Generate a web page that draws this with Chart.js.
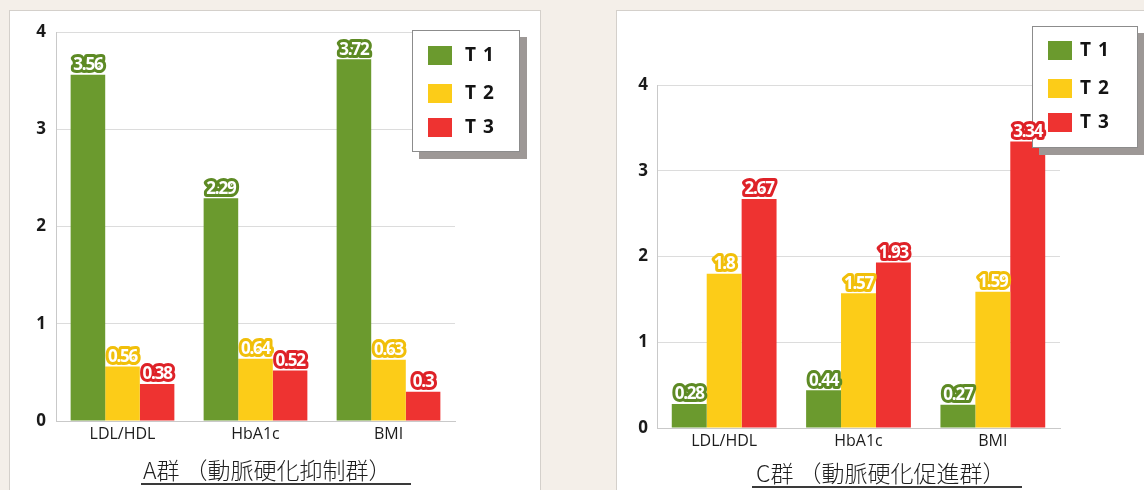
<!DOCTYPE html>
<html>
<head>
<meta charset="utf-8">
<script src="https://cdn.jsdelivr.net/npm/chart.js@4/dist/chart.umd.min.js"></script>
<style>
  html, body { margin: 0; padding: 0; }
  body { width: 1144px; height: 490px; background: #f4efe9; position: relative; overflow: hidden; font-family: "Open Sans", sans-serif; }
  .panel { position: absolute; background: #ffffff; border: 1px solid #d4d0cb; box-sizing: border-box; }
  #panelA { left: 9px; top: 10px; width: 532px; height: 492px; }
  #panelC { left: 616px; top: 10px; width: 540px; height: 492px; }
  .cv { position: absolute; }
  #chartA { left: 10px; top: 10px; }
  #chartC { left: 617px; top: 10px; }
  .caption { position: absolute; font-family: "Noto Sans CJK JP", sans-serif; font-weight: 300; font-size: 23px; line-height: 28px; color: #1e1e1e; border-bottom: 2px solid #3a3a3a; white-space: nowrap; box-sizing: border-box; }
  #capA { left: 141px; top: 455px; width: 270px; padding-left: 2px; }
  #capC { left: 752px; top: 458px; width: 270px; padding-left: 4px; }
</style>
</head>
<body>
<div class="panel" id="panelA"></div>
<div class="panel" id="panelC"></div>
<canvas class="cv" id="chartA" width="530" height="450"></canvas>
<canvas class="cv" id="chartC" width="527" height="450"></canvas>
<div class="caption" id="capA"></div>
<div class="caption" id="capC"></div>
<script>
// Categories and series names shared by both panels
const categories = ['LDL/HDL', 'HbA1c', 'BMI'];
const seriesNames = ['T 1', 'T 2', 'T 3'];
const yTickValues = [0, 1, 2, 3, 4];

// Group A (動脈硬化抑制群)
const groupA_T1 = [3.56, 2.29, 3.72];
const groupA_T2 = [0.56, 0.64, 0.63];
const groupA_T3 = [0.38, 0.52, 0.3];

// Group C (動脈硬化促進群)
const groupC_T1 = [0.28, 0.44, 0.27];
const groupC_T2 = [1.8, 1.57, 1.59];
const groupC_T3 = [2.67, 1.93, 3.34];

const captionA = 'A群 （動脈硬化抑制群）';
const captionC = 'C群 （動脈硬化促進群）';

document.getElementById('capA').textContent = captionA;
document.getElementById('capC').textContent = captionC;

const barColors = ['#6b9a2e', '#fccc18', '#ee3331'];
const labelStrokes = ['#5d8a24', '#f1bf0a', '#de2228'];

// Boxed legend with a drop shadow
const boxLegend = {
  id: 'boxLegend',
  afterDraw(chart, args, opts) {
    const ctx = chart.ctx;
    ctx.save();
    ctx.fillStyle = '#9d9896';
    ctx.fillRect(opts.x + 7, opts.y + 7, opts.w, opts.h);
    ctx.fillStyle = '#ffffff';
    ctx.fillRect(opts.x, opts.y, opts.w, opts.h);
    ctx.strokeStyle = '#8c8c8c';
    ctx.lineWidth = 1;
    ctx.strokeRect(opts.x + 0.5, opts.y + 0.5, opts.w - 1, opts.h - 1);
    ctx.font = 'bold 19px "Open Sans", sans-serif';
    ctx.letterSpacing = '1px';
    ctx.textBaseline = 'middle';
    ctx.textAlign = 'left';
    chart.data.datasets.forEach((ds, i) => {
      const cy = opts.rows[i];
      ctx.fillStyle = ds.backgroundColor;
      ctx.fillRect(opts.swatchX, cy - 9, 24, 19);
      ctx.fillStyle = '#141414';
      ctx.fillText(ds.label, opts.textX, cy + 1);
    });
    ctx.restore();
  }
};

// White value text with a coloured outline above every bar (drawn last, over the legend)
const valueLabels = {
  id: 'valueLabels',
  afterDraw(chart) {
    const ctx = chart.ctx;
    ctx.save();
    ctx.font = 'bold 17px "Open Sans", sans-serif';
    ctx.letterSpacing = '-1.2px';
    ctx.textAlign = 'center';
    ctx.textBaseline = 'bottom';
    ctx.lineJoin = 'round';
    chart.data.datasets.forEach((ds, i) => {
      const meta = chart.getDatasetMeta(i);
      meta.data.forEach((bar, j) => {
        const txt = String(ds.data[j]);
        const y = bar.y - 1;
        ctx.lineWidth = 6;
        ctx.strokeStyle = ds.labelStroke;
        ctx.strokeText(txt, bar.x, y);
        ctx.fillStyle = '#ffffff';
        ctx.fillText(txt, bar.x, y);
      });
    });
    ctx.restore();
  }
};

function makeChart(id, series, geo) {
  const datasets = series.map((vals, i) => ({
    label: seriesNames[i],
    data: vals,
    backgroundColor: barColors[i],
    labelStroke: labelStrokes[i],
    borderWidth: 0,
    categoryPercentage: 0.78,
    barPercentage: 1.0
  }));
  return new Chart(document.getElementById(id), {
    type: 'bar',
    data: { labels: categories, datasets },
    plugins: [boxLegend, valueLabels],
    options: {
      responsive: false,
      animation: false,
      layout: { padding: { left: 0, top: geo.top, right: geo.right, bottom: 0 } },
      plugins: {
        legend: { display: false },
        tooltip: { enabled: false },
        boxLegend: geo.legend
      },
      scales: {
        x: {
          grid: { display: false, drawTicks: false },
          border: { display: true, color: '#c9c9c9' },
          ticks: { color: '#1c1c1c', padding: 4, font: { family: '"Open Sans", sans-serif', size: 16 } },
          afterFit(scale) { scale.height = geo.xHeight; }
        },
        y: {
          min: yTickValues[0],
          max: yTickValues[yTickValues.length - 1],
          afterBuildTicks(scale) { scale.ticks = yTickValues.map(v => ({ value: v })); },
          grid: { color: '#dcdcdc', drawTicks: false },
          border: { display: true, color: '#c9c9c9' },
          ticks: { color: '#1a1a1a', padding: geo.yPad, font: { family: '"Open Sans", sans-serif', size: 17, weight: 'bold' } },
          afterFit(scale) { scale.width = geo.yWidth; }
        }
      }
    }
  });
}

makeChart('chartA', [groupA_T1, groupA_T2, groupA_T3], {
  top: 22, right: 85, xHeight: 39, yWidth: 46, yPad: 10,
  legend: { x: 402, y: 20, w: 108, h: 122, swatchX: 418, textX: 455, rows: [45, 83, 117] }
});

makeChart('chartC', [groupC_T1, groupC_T2, groupC_T3], {
  top: 75, right: 84, xHeight: 32, yWidth: 40, yPad: 9,
  legend: { x: 415, y: 16, w: 106, h: 122, swatchX: 431, textX: 463, rows: [40, 78, 112] }
});
</script>
</body>
</html>
